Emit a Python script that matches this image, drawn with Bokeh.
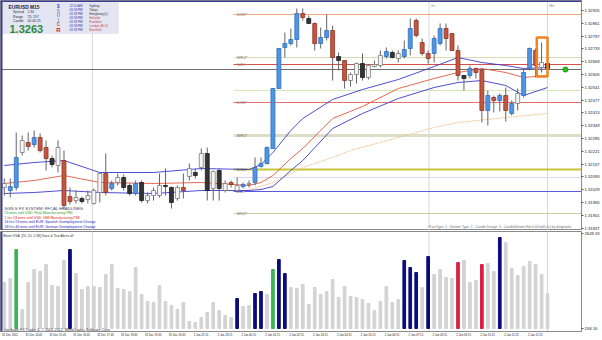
from bokeh.plotting import figure
from bokeh.layouts import column
from bokeh.models import Range1d, FixedTicker, PrintfTickFormatter, Span, BoxAnnotation, Label
from bokeh.core.properties import value
from bokeh.embed import file_html
from bokeh.resources import INLINE

FONT = "Liberation Sans"

# ---------------- data (EURUSD M15) ----------------
candle_kind = list("WBBWRBRRKW" "RRWKWWWRBW" "KKBKWWWKKW" "RWKWKWKWRW" "BWBBBBBBBB"
                   "RKRBBRKRWW" "KWWWBKWBBR" "RRBBRRRKBR" "RBRBRBWBBR" "WK")
opens = [1.32040, 1.32025, 1.32040, 1.32215, 1.32265, 1.32255, 1.32290, 1.32240, 1.32185, 1.32150,
         1.32175, 1.31995, 1.31975, 1.31985, 1.31980, 1.31960, 1.32015, 1.32110, 1.32035, 1.32065,
         1.32090, 1.32050, 1.32010, 1.32065, 1.31975, 1.32000, 1.32000, 1.32050, 1.32040, 1.31985,
         1.32040, 1.32095, 1.32115, 1.32140, 1.32210, 1.32035, 1.32125, 1.32025, 1.32065, 1.32025,
         1.32045, 1.32055, 1.32065, 1.32145, 1.32160, 1.32235, 1.32535, 1.32740, 1.32760, 1.32780,
         1.32910, 1.32885, 1.32860, 1.32760, 1.32790, 1.32825, 1.32695, 1.32675, 1.32575, 1.32605,
         1.32660, 1.32590, 1.32645, 1.32650, 1.32695, 1.32715, 1.32685, 1.32695, 1.32735, 1.32875,
         1.32765, 1.32710, 1.32710, 1.32760, 1.32835, 1.32810, 1.32725, 1.32600, 1.32600, 1.32635,
         1.32625, 1.32425, 1.32490, 1.32475, 1.32500, 1.32410, 1.32460, 1.32500, 1.32635, 1.32725,
         1.32640, 1.32660]
highs = [1.32085, 1.32085, 1.32315, 1.32300, 1.32315, 1.32325, 1.32310, 1.32275, 1.32200, 1.32275,
         1.32225, 1.32040, 1.32025, 1.31995, 1.32025, 1.32035, 1.32115, 1.32210, 1.32075, 1.32110,
         1.32105, 1.32060, 1.32075, 1.32075, 1.32015, 1.32040, 1.32110, 1.32135, 1.32045, 1.32050,
         1.32110, 1.32160, 1.32135, 1.32235, 1.32240, 1.32125, 1.32135, 1.32075, 1.32075, 1.32090,
         1.32065, 1.32075, 1.32190, 1.32190, 1.32245, 1.32535, 1.32735, 1.32815, 1.32835, 1.32935,
         1.32935, 1.32900, 1.32865, 1.32840, 1.32905, 1.32850, 1.32715, 1.32675, 1.32615, 1.32665,
         1.32710, 1.32655, 1.32675, 1.32725, 1.32740, 1.32725, 1.32725, 1.32775, 1.32885, 1.32885,
         1.32785, 1.32725, 1.32800, 1.32860, 1.32860, 1.32810, 1.32750, 1.32600, 1.32650, 1.32640,
         1.32635, 1.32525, 1.32500, 1.32510, 1.32540, 1.32475, 1.32535, 1.32635, 1.32740, 1.32735,
         1.32765, 1.32710]
lows = [1.32000, 1.31990, 1.32025, 1.32200, 1.32225, 1.32240, 1.32215, 1.32125, 1.32140, 1.32115,
        1.31935, 1.31955, 1.31960, 1.31960, 1.31960, 1.31955, 1.31965, 1.32000, 1.32025, 1.32050,
        1.32025, 1.32000, 1.32000, 1.31965, 1.31960, 1.31975, 1.31990, 1.32000, 1.31935, 1.31975,
        1.31985, 1.32075, 1.32085, 1.32125, 1.31975, 1.31975, 1.31975, 1.32015, 1.32040, 1.32015,
        1.32035, 1.32040, 1.32050, 1.32140, 1.32155, 1.32235, 1.32535, 1.32690, 1.32750, 1.32740,
        1.32875, 1.32860, 1.32725, 1.32735, 1.32775, 1.32575, 1.32625, 1.32535, 1.32545, 1.32560,
        1.32575, 1.32580, 1.32640, 1.32640, 1.32685, 1.32685, 1.32665, 1.32685, 1.32700, 1.32790,
        1.32700, 1.32660, 1.32665, 1.32750, 1.32725, 1.32725, 1.32575, 1.32525, 1.32585, 1.32585,
        1.32365, 1.32350, 1.32415, 1.32420, 1.32370, 1.32400, 1.32425, 1.32490, 1.32625, 1.32590,
        1.32615, 1.32625]
closes = [1.32060, 1.32045, 1.32190, 1.32275, 1.32245, 1.32290, 1.32225, 1.32185, 1.32155, 1.32240,
          1.31950, 1.31970, 1.31990, 1.31970, 1.32000, 1.32025, 1.32110, 1.32015, 1.32060, 1.32090,
          1.32040, 1.32010, 1.32060, 1.31975, 1.32000, 1.32025, 1.32050, 1.32045, 1.31965, 1.32040,
          1.32025, 1.32135, 1.32100, 1.32210, 1.32025, 1.32120, 1.32035, 1.32060, 1.32055, 1.32050,
          1.32055, 1.32060, 1.32140, 1.32160, 1.32240, 1.32535, 1.32735, 1.32760, 1.32780, 1.32910,
          1.32890, 1.32860, 1.32760, 1.32790, 1.32825, 1.32690, 1.32675, 1.32575, 1.32605, 1.32660,
          1.32590, 1.32650, 1.32655, 1.32700, 1.32720, 1.32690, 1.32710, 1.32730, 1.32835, 1.32800,
          1.32710, 1.32685, 1.32785, 1.32835, 1.32785, 1.32725, 1.32600, 1.32585, 1.32635, 1.32615,
          1.32425, 1.32500, 1.32475, 1.32500, 1.32425, 1.32460, 1.32510, 1.32615, 1.32735, 1.32650,
          1.32665, 1.32635]

band_idx = [0, 5, 10, 16, 25, 33, 41, 43, 45, 48, 50, 55, 60, 66, 72, 76, 80, 84, 87, 91]
band_upper = [1.32150, 1.32165, 1.32175, 1.32115, 1.32115, 1.32135, 1.32130, 1.32155, 1.32215, 1.32325,
              1.32385, 1.32480, 1.32530, 1.32580, 1.32645, 1.32690, 1.32665, 1.32650, 1.32635, 1.32640]
band_mid = [1.32060, 1.32075, 1.32100, 1.32065, 1.32060, 1.32065, 1.32050, 1.32065, 1.32100, 1.32185,
            1.32235, 1.32385, 1.32445, 1.32535, 1.32585, 1.32615, 1.32635, 1.32615, 1.32590, 1.32600]
band_lower = [1.32010, 1.32015, 1.32025, 1.32015, 1.32010, 1.32025, 1.32025, 1.32030, 1.32045, 1.32125,
              1.32175, 1.32335, 1.32410, 1.32485, 1.32540, 1.32565, 1.32575, 1.32550, 1.32500, 1.32540]
slow_idx = [40, 45, 50, 55, 58, 66, 72, 76, 84, 91]
slow_ma = [1.32020, 1.32065, 1.32140, 1.32190, 1.32225, 1.32290, 1.32340, 1.32365, 1.32390, 1.32410]

pivot_levels = [1.32905, 1.32690, 1.32655, 1.32525, 1.32465, 1.32300, 1.32130, 1.32090, 1.32020, 1.31910]
pivot_names = ["DR2*", "MR2*", "S2H", "", "DR1*", "MR1*", "DS0*", "", "S2L", "MS1*"]
pivot_start_bar = 38.4
current_price = 1.3263
signal_bar = 94.0
signal_price = 1.3263
highlight_bars = (89.2, 91.0)
highlight_prices = (1.32595, 1.32790)

volumes = [1364, 1469, 2229, 656, 1364, 1705, 1653, 1836, 1285, 1259,
           1941, 2229, 1600, 1181, 1259, 1259, 1233, 1574, 1836, 1207,
           1181, 1128, 1757, 1049, 866, 840, 1285, 866, 761, 656,
           840, 342, 315, 446, 578, 840, 630, 499, 446, 945,
           735, 761, 1076, 1128, 1049, 1705, 1967, 1600, 1233, 1207,
           1312, 787, 1233, 1049, 1128, 1443, 971, 1259, 997, 971,
           918, 814, 630, 866, 1259, 840, 918, 1941, 1757, 1626,
           1233, 2046, 1574, 1705, 1495, 1469, 1889, 1941, 1364, 1417,
           1836, 1862, 1653, 2544, 2413, 1731, 1548, 1784, 1915, 1836,
           1574, 1076]
vol_kind = list("nngnnnnnnnnb" "nnnnnnnnnnnnnnnnnnnnnnnnnnn" "bnnbbngbb"
                "nnnnnnnnnnnnnnnnnnn" "bbbnbnnnnrnnnrnnb" "nnnnnnnn")
vol_axis_min = 158.16
vol_axis_max = 2649.33

price_ticks = [1.32925, 1.32861, 1.32797, 1.32733, 1.32669, 1.32605, 1.32541, 1.32477, 1.32413,
               1.32349, 1.32285, 1.32221, 1.32157, 1.32093, 1.32029, 1.31965, 1.31901, 1.31837]
time_tick_bars = [0, 4, 8, 12, 16, 20, 24, 28, 32, 36, 40, 44, 48, 52, 56, 60, 64, 68, 72, 76, 80, 84, 88]
time_labels = ["31 Dec 2012", "31 Dec 14:45", "31 Dec 15:45", "31 Dec 16:45", "31 Dec 17:45",
               "31 Dec 18:45", "31 Dec 19:45", "31 Dec 20:45", "1 Jan 22:15", "1 Jan 23:15",
               "2 Jan 00:15", "2 Jan 01:15", "2 Jan 02:15", "2 Jan 03:15", "2 Jan 04:15",
               "2 Jan 05:15", "2 Jan 06:15", "2 Jan 07:15", "2 Jan 08:15", "2 Jan 09:15",
               "2 Jan 10:15", "2 Jan 11:15", "2 Jan 12:15"]
separator_bars = [14.75, 71.15, 91.0]
separator_names = ["", "Ja", "Mo"]

# ---------------- styles / layout ----------------
WIDTH, MAIN_H, VOL_H, RIGHT_B = 602, 230, 110, 20
BAR0_PX, BAR_PX = 3.8, 5.98
TOP_PRICE, PRICE_PER_PX = 1.32975, 0.00005


def bx(px):
    return (px - BAR0_PX) / BAR_PX


def py(ypx):
    return TOP_PRICE - PRICE_PER_PX * ypx


def vy(ypx):
    return vol_axis_min + (328 - ypx) * (vol_axis_max - vol_axis_min) / 95.0


CANDLE_FILL = {"B": "#4f95e4", "R": "#c65540", "W": "#f6f6f6", "K": "#343434"}
CANDLE_LINE = {"B": "#2f6fbf", "R": "#8c3524", "W": "#7c7c7c", "K": "#1e1e1e"}
VOL_COLOR = {"n": "#d3d3d3", "b": "#0b0b7e", "g": "#3cb35a", "r": "#dc1e46"}
PIVOT_COLORS = ["#f2a47a", "#dcd8b2", "#d6504c", "#d4e6bc", "#e47070", "#deddc8",
                "#c9c636", "#d8d8f0", "#5a5ad8", "#d0cca4"]
PIVOT_WIDTHS = [1, 1, 1, 1, 1, 3, 2, 1, 1, 1]
FRAME = "#8a8a8a"
EDGE = "#3b3b98"


def texts(fig, xs, ys, labels, colors, size, bold=False, align="left", baseline="middle"):
    if isinstance(colors, str):
        colors = [colors] * len(labels)
    fig.text(x=xs, y=ys, text=labels, text_color=colors, text_font=value(FONT),
             text_font_size=value(size), text_font_style="bold" if bold else "normal",
             text_align=align, text_baseline=baseline)


x_range = Range1d(bx(0), bx(WIDTH - RIGHT_B))

# ---------------- main price chart ----------------
p = figure(width=WIDTH, height=MAIN_H, x_range=x_range, y_range=Range1d(py(MAIN_H), py(0)),
           x_axis_location=None, y_axis_location="right", title=None,
           output_backend="svg", toolbar_location=None,
           min_border_left=0, min_border_right=RIGHT_B, min_border_top=0, min_border_bottom=0,
           background_fill_color="white", border_fill_color="white", outline_line_color=FRAME)
p.grid.visible = False
ya = p.yaxis[0]
ya.ticker = FixedTicker(ticks=price_ticks)
ya.formatter = PrintfTickFormatter(format="%.5f")
ya.major_label_text_font = FONT
ya.major_label_text_font_size = "4.2px"
ya.major_label_text_color = "#222222"
ya.major_tick_out = 2
ya.major_tick_in = 0
ya.minor_tick_line_color = None
ya.major_tick_line_color = "#555555"
ya.axis_line_color = FRAME
ya.major_label_standoff = 1

for loc in separator_bars:
    p.add_layout(Span(location=loc, dimension="height", line_color="#d6d6d6", line_width=1, level="underlay"))
p.add_layout(Span(location=current_price, dimension="width", line_color="#6e6e6e", line_width=1, level="underlay"))

# info panel background
p.add_layout(BoxAnnotation(left=bx(2), right=bx(118), top=py(2), bottom=py(33), fill_color="#e3e5f3",
                           fill_alpha=1, line_color="#c9cbe3", line_width=1, level="underlay"))

# pivot lines
p.segment(x0=[pivot_start_bar] * len(pivot_levels), x1=[200] * len(pivot_levels),
          y0=pivot_levels, y1=pivot_levels, line_color=PIVOT_COLORS, line_width=PIVOT_WIDTHS)
lab_idx = [k for k, n in enumerate(pivot_names) if n]
texts(p, [pivot_start_bar + 0.6] * len(lab_idx), [pivot_levels[k] for k in lab_idx],
      [pivot_names[k] for k in lab_idx], "#7a7a7a", "4.2px")

# envelopes / moving averages
p.line(slow_idx, slow_ma, line_color="#f0c090", line_width=1, line_dash="2 1")
p.line(band_idx, band_upper, line_color="#3a3ad0", line_width=0.9)
p.line(band_idx, band_mid, line_color="#e0583e", line_width=0.9)
p.line(band_idx, band_lower, line_color="#3a3ad0", line_width=0.9)

# candles
bars = list(range(len(opens)))
body_top = [max(o, c) for o, c in zip(opens, closes)]
body_bot = [min(o, c) for o, c in zip(opens, closes)]
p.segment(x0=bars, y0=highs, x1=bars, y1=lows, line_color="#646464", line_width=1)
p.vbar(x=bars, top=body_top, bottom=body_bot, width=0.66,
       fill_color=[CANDLE_FILL[k] for k in candle_kind],
       line_color=[CANDLE_LINE[k] for k in candle_kind], line_width=0.8)

p.quad(left=[highlight_bars[0]], right=[highlight_bars[1]], bottom=[highlight_prices[0]],
       top=[highlight_prices[1]], fill_color=None, line_color="#f08220", line_width=2.5)
p.scatter(x=[signal_bar], y=[signal_price], size=5, fill_color="#22c322", line_color="#169a16")

# separator names
sep_idx = [k for k, n in enumerate(separator_names) if n]
texts(p, [separator_bars[k] + 0.3 for k in sep_idx], [py(5)] * len(sep_idx),
      [separator_names[k] for k in sep_idx], "#8a8a8a", "3.6px")

# info panel texts
texts(p, [bx(8)], [py(6.5)], ["EURUSD  M15"], "#1c1c40", "4.8px", bold=True)
texts(p, [bx(12.5)] * 3, [py(11.2), py(16), py(20.8)], ["Spread", "Range", "Candle"], "#333333", "3.4px")
texts(p, [bx(27)] * 3, [py(11.2), py(16), py(20.8)], ["2.30", "73, 197", "00:06:25"], "#333333", "3.4px")
texts(p, [bx(9)], [py(28.3)], ["1.3263"], "#2e8b3e", "11px", bold=True)
texts(p, [bx(58)] * 5, [py(6), py(11), py(15.3), py(19.5), py(23.8)], ["$", "S", "U", "I", "C"],
      ["#4a4ac8", "#8c8cc8", "#8c8cc8", "#8c8cc8", "#d04a4a"], "4.6px", bold=True, align="center")
texts(p, [bx(58)], [py(29.3)], ["R"], "#d82020", "6px", bold=True, align="center")
row_y = [py(5), py(9.1), py(13.2), py(17.3), py(21.4), py(25.5), py(29.6)]
texts(p, [bx(69)] * 7, row_y, ["12:00 AM", "03:58 PM", "03:58 PM", "03:58 PM", "03:58 PM", "03:58 PM", "03:58 PM"],
      "#3a3aa0", "3.1px")
texts(p, [bx(89)] * 7, row_y, ["Sydney", "Tokyo", "Hongkong (L)", "Helsinki", "Frankfurt", "London (B.O)", "NewYork"],
      ["#333333"] * 3 + ["#d03c3c"] * 4, "3.1px")

# news headlines
texts(p, [bx(4)], [py(208)], ["SGN.S FX SYSTEM: FFCAL HEADLINES:"], "#3c3c64", "4.2px")
texts(p, [bx(4)] * 4, [py(212.6), py(217.2), py(221.8), py(226.3)],
      ["53 mins until USD: Final Manufacturing PMI",
       "1 hrs 53 mins until USD: ISM Manufacturing PMI",
       "16 hrs 53 mins until EUR: Spanish Unemployment Change",
       "18 hrs 46 mins until EUR: German Unemployment Change"],
      ["#2a9a2a", "#e02020", "#2424c0", "#2424c0"], "3.5px")
texts(p, [bx(572)], [py(226)],
      ["PriceType: 1 - Volume Type: 2 - Candle Design: 3 - CandleVolume Not 0.00 bells (c) by dingmarks"],
      "#707070", "3.3px", align="right")

# window edges
p.add_layout(BoxAnnotation(right=bx(2), fill_color=EDGE, fill_alpha=1, line_alpha=0, level="overlay"))
p.add_layout(BoxAnnotation(bottom=py(1.5), fill_color=EDGE, fill_alpha=1, line_alpha=0, level="overlay"))

# current price tag on the price scale
p.add_layout(Label(x=bx(WIDTH - RIGHT_B + 1), y=current_price, x_units="data", y_units="data",
                   text="1.32630", text_font=FONT, text_font_size="4.2px", text_color="white",
                   background_fill_color="black", background_fill_alpha=1.0,
                   text_baseline="middle", text_align="left", level="overlay"))

# ---------------- volume panel ----------------
v = figure(width=WIDTH, height=VOL_H, x_range=x_range, y_range=Range1d(vy(331), vy(231)),
           x_axis_location="below", y_axis_location="right", title=None,
           output_backend="svg", toolbar_location=None,
           min_border_left=0, min_border_right=RIGHT_B, min_border_top=1, min_border_bottom=9,
           background_fill_color="white", border_fill_color="white", outline_line_color=FRAME)
v.grid.visible = False
for loc in separator_bars:
    v.add_layout(Span(location=loc, dimension="height", line_color="#d6d6d6", line_width=1, level="underlay"))
v.vbar(x=bars, top=volumes, bottom=vol_axis_min, width=0.45,
       color=[VOL_COLOR[k] for k in vol_kind])
texts(v, [bx(3)], [vy(235.5)], ["Bennt VSA: [20, 10, 1.38]   Voice & Text Alerts off"], "#333333", "3.3px")
texts(v, [bx(3)], [vy(329)], ["Interbank FX Trader 4, \u00a9 2001-2012, MetaQuotes Software Corp."],
      "#333333", "3.7px")
v.add_layout(BoxAnnotation(right=bx(2), fill_color=EDGE, fill_alpha=1, line_alpha=0, level="overlay"))

vya = v.yaxis[0]
vya.ticker = FixedTicker(ticks=[vol_axis_min, vol_axis_max])
vya.formatter = PrintfTickFormatter(format="%.2f")
vya.major_label_text_font = FONT
vya.major_label_text_font_size = "4.2px"
vya.major_label_text_color = "#222222"
vya.major_tick_out = 2
vya.major_tick_in = 0
vya.minor_tick_line_color = None
vya.major_tick_line_color = "#555555"
vya.axis_line_color = FRAME
vya.major_label_standoff = 1

vxa = v.xaxis[0]
tick_pos = [t + 0.95 for t in time_tick_bars]
vxa.ticker = FixedTicker(ticks=tick_pos)
vxa.major_label_overrides = {t: lab for t, lab in zip(tick_pos, time_labels)}
vxa.major_label_text_font = FONT
vxa.major_label_text_font_size = "2.8px"
vxa.major_label_text_color = "#222222"
vxa.major_tick_line_color = None
vxa.major_tick_out = 0
vxa.major_tick_in = 0
vxa.minor_tick_line_color = None
vxa.axis_line_color = FRAME
vxa.major_label_standoff = 1

layout = column(p, v, spacing=0)
open("out.html", "w").write(file_html(layout, INLINE))
